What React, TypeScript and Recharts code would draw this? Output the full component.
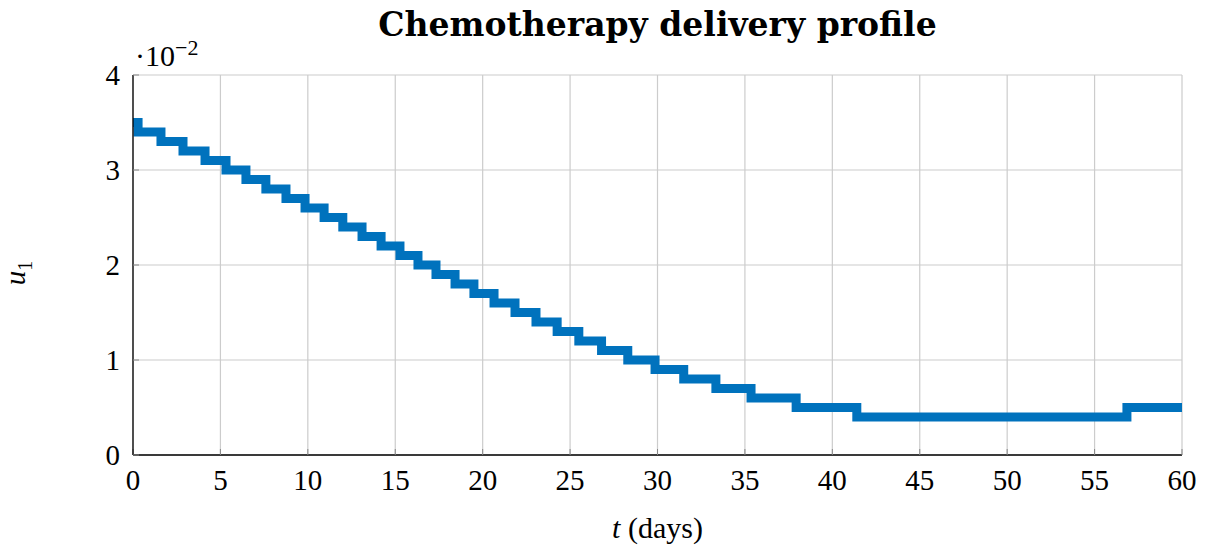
import { CartesianGrid, Line, LineChart, XAxis, YAxis } from "recharts";

// switch times (days) and the dose level that starts at each one
const switchDays = [
  0, 0.29, 1.6, 2.86, 4.12, 5.32, 6.46, 7.6, 8.75, 9.84, 10.93, 12.0, 13.1,
  14.19, 15.27, 16.3, 17.33, 18.42, 19.5, 20.65, 21.85, 23.05, 24.26, 25.5,
  26.8, 28.3, 29.86, 31.5, 33.34, 35.35, 37.93, 41.4, 56.85, 60,
];
const doseLevels = [
  0.035, 0.034, 0.033, 0.032, 0.031, 0.03, 0.029, 0.028, 0.027, 0.026, 0.025,
  0.024, 0.023, 0.022, 0.021, 0.02, 0.019, 0.018, 0.017, 0.016, 0.015, 0.014,
  0.013, 0.012, 0.011, 0.01, 0.009, 0.008, 0.007, 0.006, 0.005, 0.004, 0.005,
  0.005,
];
const xTicks = [0, 5, 10, 15, 20, 25, 30, 35, 40, 45, 50, 55, 60];
const yTicks = [0, 0.01, 0.02, 0.03, 0.04];

const data = switchDays.map((t, i) => ({ t, u1: doseLevels[i] }));

const FONT = '"Liberation Serif", "DejaVu Serif", serif';
const tickStyle = { fill: "#000", fontSize: 29, fontFamily: FONT };

export default function App() {
  return (
    <div style={{ position: "relative", width: 1199, height: 538, fontFamily: FONT }}>
      <div
        style={{
          position: "absolute",
          left: 125,
          width: 1049,
          top: 0,
          textAlign: "center",
          fontFamily: '"DejaVu Serif", serif',
          fontSize: 33,
          lineHeight: "33px",
          fontWeight: "bold",
        }}
      >
        Chemotherapy delivery profile
      </div>
      <div
        style={{
          position: "absolute",
          left: 127,
          top: 25,
          fontSize: 30,
          lineHeight: "29px",
        }}
      >
        ·10<sup style={{ fontSize: 22, verticalAlign: "11px" }}>−2</sup>
      </div>
      <div
        style={{
          position: "absolute",
          left: -18,
          top: 245,
          width: 60,
          textAlign: "center",
          fontSize: 29,
          lineHeight: "30px",
          transform: "rotate(-90deg)",
        }}
      >
        <i>u</i>
        <sub style={{ fontSize: 20 }}>1</sub>
      </div>
      <div
        style={{
          position: "absolute",
          left: 125,
          width: 1049,
          top: 505,
          textAlign: "center",
          fontSize: 30,
          lineHeight: "29px",
        }}
      >
        <i>t</i> (days)
      </div>
      <LineChart
        width={1199}
        height={538}
        data={data}
        margin={{ top: 67, right: 25, bottom: 51, left: 65 }}
      >
        <CartesianGrid stroke="#cccccc" strokeWidth={1.2} />
        <XAxis
          dataKey="t"
          type="number"
          domain={[0, 60]}
          ticks={xTicks}
          height={40}
          tickSize={-6}
          tickMargin={20}
          tickLine={{ stroke: "#888" }}
          axisLine={{ stroke: "#000", strokeWidth: 1.3 }}
          tick={tickStyle}
        />
        <XAxis
          xAxisId="top"
          orientation="top"
          type="number"
          domain={[0, 60]}
          ticks={xTicks}
          height={0}
          tickSize={-6}
          tick={false}
          tickLine={{ stroke: "#888" }}
          axisLine={{ stroke: "#000", strokeWidth: 1.3 }}
        />
        <YAxis
          type="number"
          domain={[0, 0.04]}
          ticks={yTicks}
          width={60}
          tickSize={-6}
          tickMargin={19}
          tickLine={{ stroke: "#888" }}
          axisLine={{ stroke: "#000", strokeWidth: 1.3 }}
          tick={tickStyle}
          tickFormatter={(v: number) => `${Math.round(v * 100)}`}
        />
        <YAxis
          yAxisId="right"
          orientation="right"
          type="number"
          domain={[0, 0.04]}
          ticks={yTicks}
          width={0}
          tickSize={-6}
          tick={false}
          tickLine={{ stroke: "#888" }}
          axisLine={{ stroke: "#000", strokeWidth: 1.3 }}
        />
        <Line
          type="stepAfter"
          dataKey="u1"
          stroke="#0072BD"
          strokeWidth={9}
          strokeLinejoin="miter"
          dot={false}
          isAnimationActive={false}
        />
      </LineChart>
    </div>
  );
}
